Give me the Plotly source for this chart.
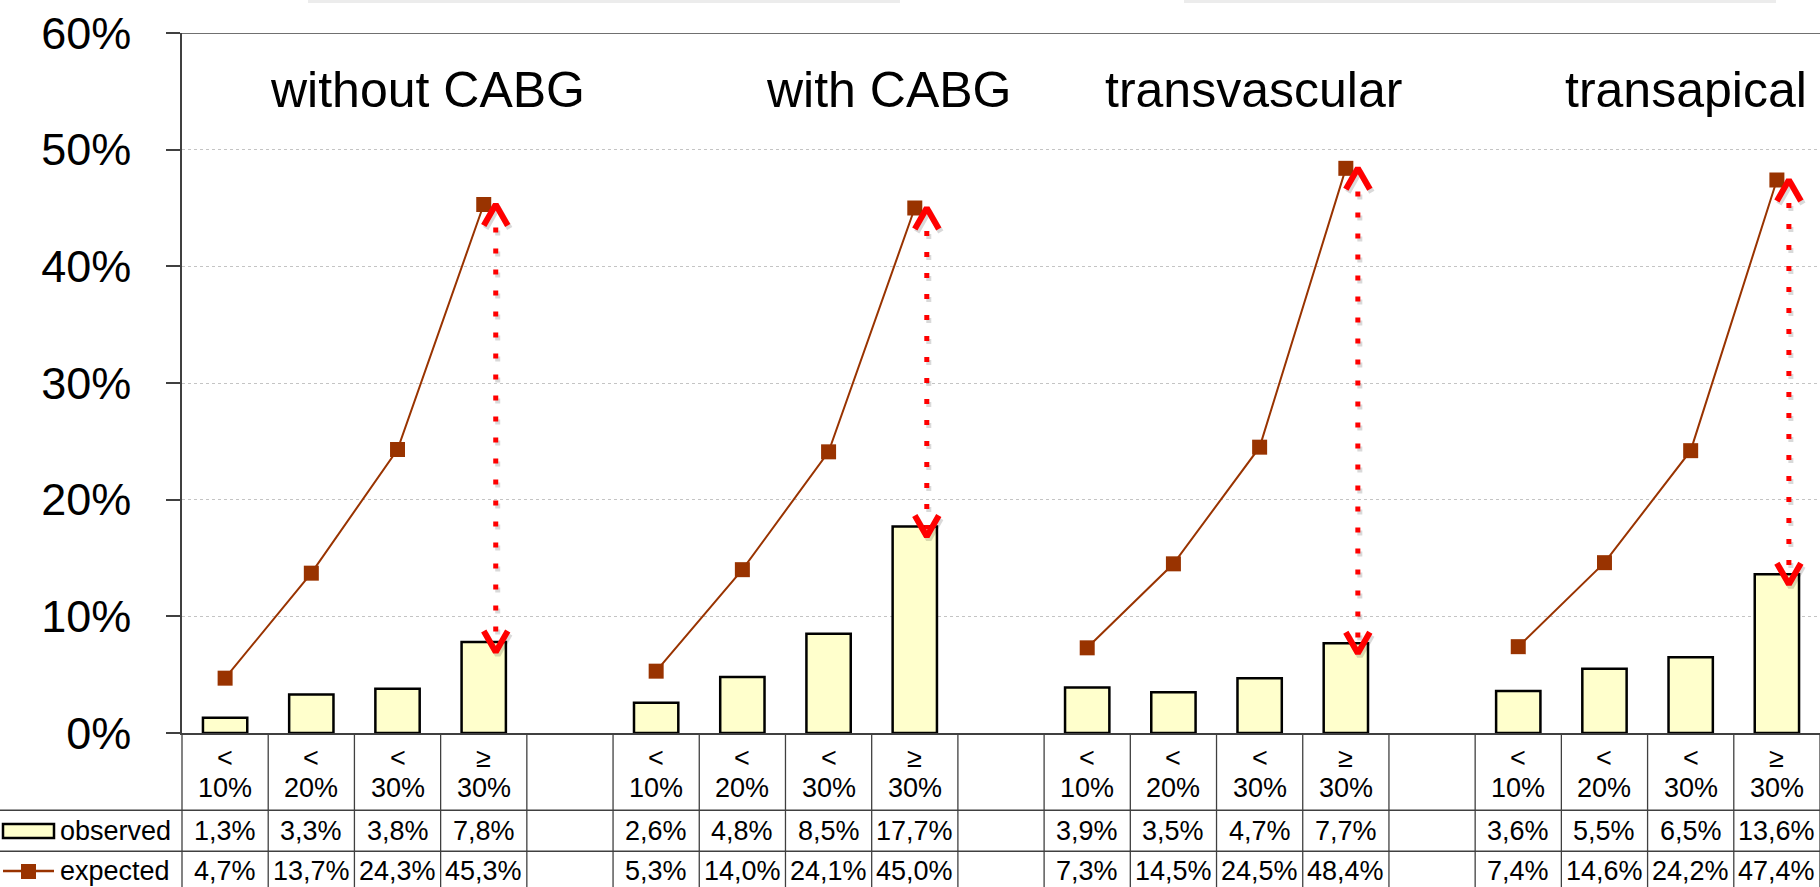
import plotly.graph_objects as go

# ---- data -------------------------------------------------------------
groups = ["without CABG", "with CABG", "transvascular", "transapical"]
risk_ops = ["<", "<", "<", "≥"]
risk_levels = ["10%", "20%", "30%", "30%"]

observed_without_cabg = [1.3, 3.3, 3.8, 7.8]
observed_with_cabg = [2.6, 4.8, 8.5, 17.7]
observed_transvascular = [3.9, 3.5, 4.7, 7.7]
observed_transapical = [3.6, 5.5, 6.5, 13.6]

expected_without_cabg = [4.7, 13.7, 24.3, 45.3]
expected_with_cabg = [5.3, 14.0, 24.1, 45.0]
expected_transvascular = [7.3, 14.5, 24.5, 48.4]
expected_transapical = [7.4, 14.6, 24.2, 47.4]

y_ticks = [0, 10, 20, 30, 40, 50, 60]
y_tick_labels = ["0%", "10%", "20%", "30%", "40%", "50%", "60%"]

observed = [observed_without_cabg, observed_with_cabg,
            observed_transvascular, observed_transapical]
expected = [expected_without_cabg, expected_with_cabg,
            expected_transvascular, expected_transapical]

# ---- geometry ---------------------------------------------------------
W, H = 1820, 887
ML, MR, MT, MB = 182, 0, 33, 154
PW, PH = W - ML - MR, H - MT - MB
SLOTS_PER_GROUP = 5          # four risk classes + one empty spacer
N_SLOTS = SLOTS_PER_GROUP * len(groups) - 1
Y_MAX = 60

FONT = "Liberation Sans, Arial, sans-serif"
BAR_FILL = "#FFFFCC"
EXP_COLOR = "#993300"
ARROW_COLOR = "#FF0000"
LINE_DARK = "#404040"

px_per_slot = PW / N_SLOTS
px_per_pct = PH / Y_MAX


def py(pix):
    """pixel row -> paper y"""
    return (MT + PH - pix) / PH


def px(pix):
    """pixel column -> paper x"""
    return (pix - ML) / PW


def fmt(v):
    return f"{v:.1f}".replace(".", ",") + "%"


slot_x = [[g * SLOTS_PER_GROUP + i for i in range(4)] for g in range(len(groups))]

fig = go.Figure()

# observed bars
bar_x, bar_y = [], []
for g in range(len(groups)):
    bar_x += slot_x[g]
    bar_y += observed[g]
fig.add_trace(go.Bar(
    x=bar_x, y=bar_y, name="observed",
    marker=dict(color=BAR_FILL, line=dict(color="black", width=2.5)),
    showlegend=False, hoverinfo="skip",
))

# expected line, broken between groups
line_x, line_y = [], []
for g in range(len(groups)):
    line_x += slot_x[g] + [None]
    line_y += expected[g] + [None]
fig.add_trace(go.Scatter(
    x=line_x, y=line_y, name="expected", mode="lines+markers",
    line=dict(color=EXP_COLOR, width=2),
    marker=dict(symbol="square", size=15, color=EXP_COLOR),
    connectgaps=False, showlegend=False, hoverinfo="skip",
))

# red dotted double arrows between expected and observed of the top class
ax_off = 12 / px_per_slot
hw = 12 / px_per_slot
hh = 21 / px_per_pct
tip_gap = 10 / px_per_pct
sh_dx = 2 / px_per_slot
sh_dy = 3 / px_per_pct


def arrow_paths(g, dx=0.0, dy=0.0):
    xa = slot_x[g][3] + ax_off + dx
    top = expected[g][3] + dy
    bot = observed[g][3] - tip_gap + dy
    stem = ([xa, xa], [top - hh * 1.1, bot + hh * 0.35])
    up = ([xa - hw, xa, xa + hw], [top - hh, top, top - hh])
    down = ([xa - hw, xa, xa + hw], [bot + hh, bot, bot + hh])
    return stem, up, down


for g in range(len(groups)):
    for dx, dy, col in [(sh_dx, -sh_dy, "rgba(0,0,0,0.15)"), (0, 0, ARROW_COLOR)]:
        stem, up, down = arrow_paths(g, dx, dy)
        fig.add_trace(go.Scatter(
            x=stem[0], y=stem[1], mode="lines",
            line=dict(color=col, width=5, dash="5px,16px"),
            showlegend=False, hoverinfo="skip",
        ))
        for xs, ys in (up, down):
            fig.add_trace(go.Scatter(
                x=xs, y=ys, mode="lines",
                line=dict(color=col, width=6),
                showlegend=False, hoverinfo="skip",
            ))

annotations = []
shapes = []

# group titles
title_left = [268, 764, 1103, 1563]
for g, name in enumerate(groups):
    annotations.append(dict(
        text=name, x=px(title_left[g]), y=py(89.5), xref="paper", yref="paper",
        xanchor="left", yanchor="middle", showarrow=False,
        font=dict(family=FONT, size=50, color="black"),
    ))

# data table under the axis
TBL_FONT = dict(family=FONT, size=27, color="black")
row_top, row1_bot, row2_bot, row_end = MT + PH, 810.3, 851.3, H + 6
for g in range(len(groups)):
    for i in range(4):
        xs = slot_x[g][i]
        for txt, yy in [(risk_ops[i], 758), (risk_levels[i], 788.5),
                        (fmt(observed[g][i]), 830.7), (fmt(expected[g][i]), 871)]:
            annotations.append(dict(
                text=txt, x=xs, y=py(yy), xref="x", yref="paper",
                xanchor="center", yanchor="middle", showarrow=False,
                font=TBL_FONT,
            ))

for label, yy in [("observed", 830.7), ("expected", 871)]:
    annotations.append(dict(
        text=label, x=px(58), y=py(yy), xref="paper", yref="paper",
        xanchor="left", yanchor="middle", showarrow=False, font=TBL_FONT,
    ))

# table rules
for yy in (row1_bot, row2_bot):
    shapes.append(dict(type="line", xref="paper", yref="paper",
                       x0=px(0), x1=px(W), y0=py(yy), y1=py(yy),
                       line=dict(color=LINE_DARK, width=1.5)))
for k in range(N_SLOTS + 1):
    shapes.append(dict(type="line", xref="paper", yref="paper",
                       x0=k / N_SLOTS, x1=k / N_SLOTS, y0=py(row_top), y1=py(row_end),
                       line=dict(color=LINE_DARK, width=1.3)))

# legend keys inside the table
shapes.append(dict(type="rect", xref="paper", yref="paper",
                   x0=px(3), x1=px(54), y0=py(824), y1=py(838),
                   fillcolor=BAR_FILL, line=dict(color="black", width=2.5)))
shapes.append(dict(type="line", xref="paper", yref="paper",
                   x0=px(3), x1=px(54), y0=py(871), y1=py(871),
                   line=dict(color=EXP_COLOR, width=2.5)))
shapes.append(dict(type="rect", xref="paper", yref="paper",
                   x0=px(21), x1=px(36), y0=py(864), y1=py(879),
                   fillcolor=EXP_COLOR, line=dict(width=0)))

# frame line at the top of the value axis
shapes.append(dict(type="line", xref="paper", yref="y",
                   x0=0, x1=1, y0=Y_MAX, y1=Y_MAX,
                   line=dict(color=LINE_DARK, width=1.5)))

# faint box edges peeking in at the very top
for x0, x1 in [(308, 900), (1184, 1776)]:
    shapes.append(dict(type="rect", xref="paper", yref="paper",
                       x0=px(x0), x1=px(x1), y0=py(3), y1=py(-2),
                       fillcolor="#ececec", line=dict(width=0)))

fig.update_layout(
    width=W, height=H,
    margin=dict(l=ML, r=MR, t=MT, b=MB, pad=0),
    paper_bgcolor="white", plot_bgcolor="white",
    bargap=0.486,
    showlegend=False,
    font=dict(family=FONT, color="black"),
    xaxis=dict(
        range=[-0.5, N_SLOTS - 0.5], showticklabels=False, ticks="",
        showgrid=False, zeroline=False,
        showline=True, linecolor=LINE_DARK, linewidth=1.5,
        fixedrange=True,
    ),
    yaxis=dict(
        range=[0, Y_MAX], tickvals=y_ticks, ticktext=y_tick_labels,
        ticks="outside", ticklen=14, tickwidth=1.5, tickcolor=LINE_DARK,
        tickfont=dict(family=FONT, size=45, color="black"),
        ticklabelstandoff=26,
        showline=True, linecolor=LINE_DARK, linewidth=1.5,
        showgrid=True, gridcolor="#c4c4c4", gridwidth=1, griddash="dot",
        zeroline=False, fixedrange=True,
    ),
    annotations=annotations,
    shapes=shapes,
)

fig.write_html("out.html")
